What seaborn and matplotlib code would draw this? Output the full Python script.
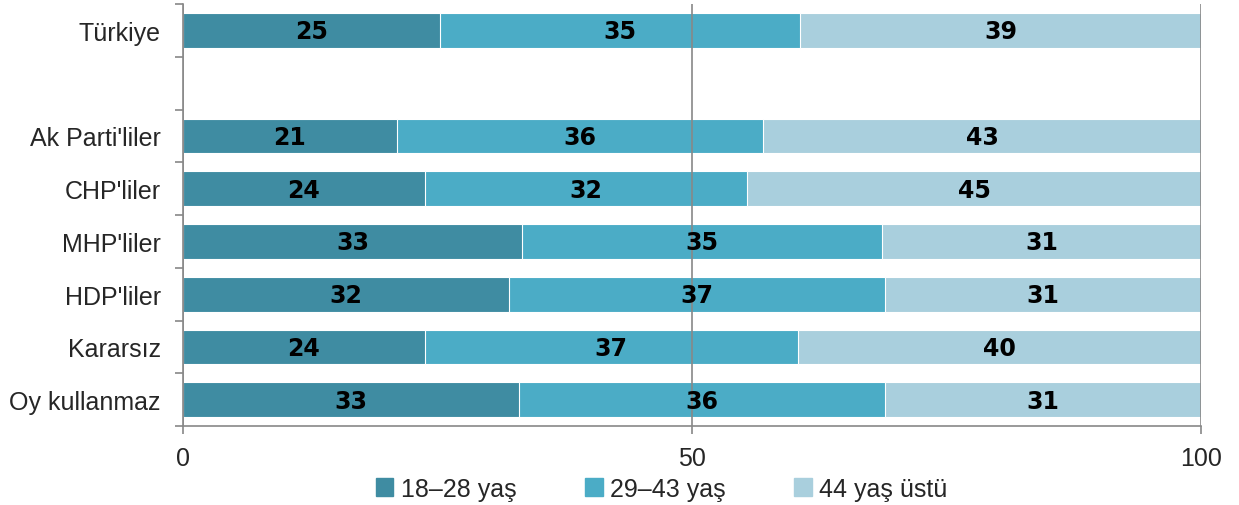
import pandas as pd
import matplotlib.pyplot as plt
import seaborn as sns
import numpy as np

# Data (percent, as printed on the bars)
groups = ["Türkiye", "", "Ak Parti'liler", "CHP'liler", "MHP'liler", "HDP'liler", "Kararsız", "Oy kullanmaz"]
age_18_28 = [25, np.nan, 21, 24, 33, 32, 24, 33]
age_29_43 = [35, np.nan, 36, 32, 35, 37, 37, 36]
age_44_up = [39, np.nan, 43, 45, 31, 31, 40, 31]
series_names = ["18–28 yaş", "29–43 yaş", "44 yaş üstü"]
colors = ["#3F8CA2", "#4BACC6", "#A9CFDD"]

sns.set_style("white")
plt.rcParams["font.family"] = ["Liberation Sans Narrow", "Liberation Sans", "DejaVu Sans"]

df = pd.DataFrame({"group": groups, "a": age_18_28, "b": age_29_43, "c": age_44_up})
df = df[df["group"] != ""].copy()
total = df[["a", "b", "c"]].sum(axis=1)
df["pa"] = df["a"] / total * 100
df["pb"] = df["b"] / total * 100
df["pc"] = df["c"] / total * 100
df["cum1"] = df["pa"]
df["cum2"] = df["pa"] + df["pb"]
df["cum3"] = df["cum2"] + df["pc"]

fig = plt.figure(figsize=(12.39, 5.06), dpi=100)
ax = fig.add_axes([0.1477, 0.156, 0.8216, 0.834])

# Draw stacked bars by overlapping cumulative totals
for col, color in zip(["cum3", "cum2", "cum1"], colors[::-1]):
    sns.barplot(data=df, x=col, y="group", order=groups, color=color, orient="h",
                width=0.66, edgecolor="white", linewidth=0.8, ax=ax, errorbar=None,
                saturation=1)

# Value labels
pos = {g: i for i, g in enumerate(groups)}
for _, r in df.iterrows():
    y = pos[r["group"]]
    starts = [0, r["cum1"], r["cum2"]]
    widths = [r["pa"], r["pb"], r["pc"]]
    vals = [r["a"], r["b"], r["c"]]
    for s, w, v in zip(starts, widths, vals):
        ax.text(s + w / 2, y + 0.02, f"{int(v)}", ha="center", va="center",
                fontsize=17, fontweight="heavy", color="black", family="DejaVu Sans")

ax.set_xlim(0, 100)
ax.set_ylim(len(groups) - 0.5, -0.5)
ax.set_xlabel("")
ax.set_ylabel("")
ax.set_xticks([0, 50, 100])
ax.set_xticklabels(["0", "50", "100"], fontsize=18)
ax.set_yticks(range(len(groups)))
ax.set_yticklabels(groups, fontsize=18)
ax.set_yticks(np.arange(-0.5, len(groups), 1), minor=True)
ax.tick_params(axis="y", which="major", left=False, length=0, pad=16)
ax.tick_params(axis="y", which="minor", left=True, length=6, color="#888888", width=1.2, direction="out")
ax.tick_params(axis="x", bottom=True, length=6, color="#888888", width=1.2, direction="out", pad=8)

ax.xaxis.grid(True, color="#888888", linewidth=1.2)
ax.set_axisbelow(False)
for s in ["top", "right"]:
    ax.spines[s].set_visible(False)
for s in ["left", "bottom"]:
    ax.spines[s].set_color("#888888")
    ax.spines[s].set_linewidth(1.2)

handles = [plt.Rectangle((0, 0), 1, 1, color=c) for c in colors]
fig.legend(handles, series_names, loc="center", bbox_to_anchor=(0.534, 0.032), ncol=3,
           frameon=False, fontsize=18, handlelength=0.7, handleheight=0.7,
           handletextpad=0.3, columnspacing=2.75)

fig.savefig("out.png", dpi=100)
